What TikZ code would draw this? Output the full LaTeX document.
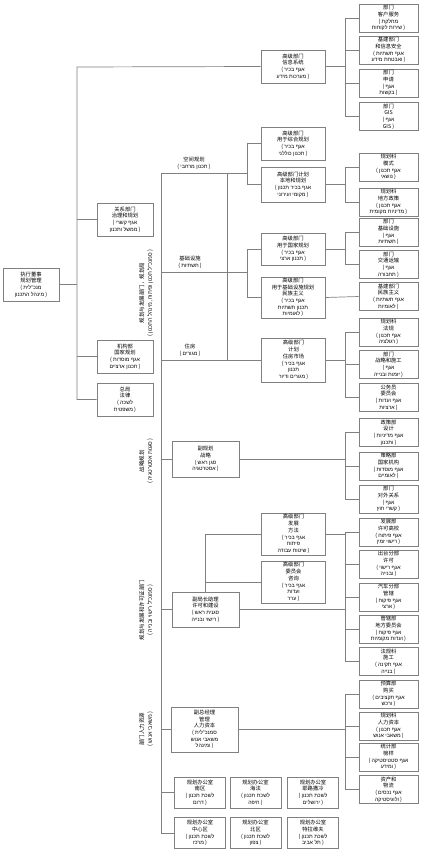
\documentclass[tikz,border=0pt]{standalone}
\usepackage{fontspec}
\setmainfont{Noto Sans CJK SC}
\newfontfamily\hebfont[Script=Hebrew]{Liberation Sans}
\TeXXeTstate=1
\newcommand\hb[1]{{\hebfont\beginR #1\endR}}
\tikzset{
  box/.style={draw=black!50, fill=white, line width=0.6pt, align=center, inner sep=0.4pt,
    font=\fontsize{5.3}{6.7}\selectfont},
  conn/.style={draw=black!50, line width=0.7pt},
  lbl/.style={align=center, inner sep=0pt, font=\fontsize{5.3}{6.7}\selectfont},
  vlbl/.style={align=center, inner sep=0pt, rotate=90, font=\fontsize{5.5}{8}\selectfont},
  leaf/.style={box, minimum width=59pt, minimum height=28pt},
  mid/.style={box, minimum width=64pt},
  lft/.style={box, minimum width=56pt, minimum height=33pt},
  dep/.style={box, minimum width=67pt},
  off/.style={box, minimum width=51pt, minimum height=31pt},
}
\begin{document}
\begin{tikzpicture}[x=1pt,y=-1pt]
\useasboundingbox (0,0) rectangle (426,851);
% ---------- left column ----------
\node[lft] (root) at (31,284.5) {执行董事\\规划管理\\( \hb{מנכ"לית}\\\hb{מינהל התכנון} )};
\node[lft] (rel) at (125,219.5) {关系部门\\治理和规划\\( \hb{אגף קשרי}\\\hb{ממשל ותכנון} )};
\node[lft] (inst) at (125,356.5) {机构部\\国家规划\\( \hb{אגף מוסדות}\\\hb{תכנון ארציים} )};
\node[lft] (legal) at (125,399.5) {总局\\法律\\( \hb{לשכה}\\\hb{משפטית} )};
% ---------- middle column ----------
\node[mid, minimum height=33pt] (info) at (293,66.5) {高级部门\\信息系统\\( \hb{אגף בכיר}\\\hb{מערכות מידע} )};
\node[mid, minimum height=33pt] (comp) at (293,143.5) {高级部门\\用于综合规划\\( \hb{אגף בכיר}\\\hb{תכנון כוללני} )};
\node[mid, minimum height=35pt] (local) at (293,184.5) {高级部门计划\\本地和规划\\( \hb{אגף בכיר תכנון}\\\hb{מקומי ועירוני} )};
\node[mid, minimum height=32pt] (nat) at (293,249) {高级部门\\用于国家规划\\( \hb{אגף בכיר}\\\hb{תכנון ארצי} )};
\node[mid, minimum height=41pt] (natinf) at (293,297.5) {高级部门\\用于基础设施规划\\民族主义\\( \hb{אגף בכיר}\\\hb{תכנון תשתיות}\\\hb{לאומיות} )};
\node[mid, minimum height=44pt] (housing) at (293.5,360) {高级部门\\计划\\住房市场\\( \hb{אגף בכיר}\\\hb{תכנון}\\\hb{מגורים ודיור} )};
\node[mid, minimum height=42pt] (devm) at (293.5,534) {高级部门\\发展\\方法\\( \hb{אגף בכיר}\\\hb{פיתוח}\\\hb{שיטות עבודה} )};
\node[mid, minimum height=42pt] (comm) at (293.5,582) {高级部门\\委员会\\咨询\\( \hb{אגף בכיר}\\\hb{ועדות}\\\hb{ערר} )};
\node[dep, minimum height=36pt] (strat) at (205.5,459) {副规划\\战略\\( \hb{סגן ראש}\\\hb{אסטרטגיה} )};
\node[dep, minimum height=35pt] (lic) at (205.5,609.5) {副局长助理\\许可和建设\\( \hb{סגנית ראש}\\\hb{רישוי ובנייה} )};
\node[dep, minimum height=45pt] (hr) at (204.5,729.5) {副总经理\\管理\\人力资本\\( \hb{סמנכ"לית}\\\hb{משאבי אנוש}\\\hb{ומינהל} )};
% ---------- right column ----------
\node[leaf] (ic1) at (388.5,18) {部门\\客户服务\\( \hb{מחלקת}\\\hb{שירות לקוחות} )};
\node[leaf] (ic2) at (388.5,50) {基建部门\\和信息安全\\( \hb{אגף תשתיות}\\\hb{ואבטחת מידע} )};
\node[leaf] (ic3) at (388.5,83) {部门\\申请\\( \hb{אגף}\\\hb{בקשות} )};
\node[leaf] (ic4) at (388.5,116.5) {部门\\GIS\\( \hb{אגף}\\GIS )};
\node[leaf] (lc1) at (388.5,167) {规划科\\模式\\( \hb{אגף תכנון}\\\hb{נושאי} )};
\node[leaf] (lc2) at (388.5,202) {规划科\\地方政策\\( \hb{אגף תכנון}\\\hb{מדיניות מקומית} )};
\node[leaf] (nc1) at (388.5,232) {部门\\基础设施\\( \hb{אגף}\\\hb{תשתיות} )};
\node[leaf] (nc2) at (388.5,264.5) {部门\\交通运输\\( \hb{אגף}\\\hb{תחבורה} )};
\node[leaf] (ni) at (388.5,296.5) {基建部门\\民族主义\\( \hb{אגף תשתיות}\\\hb{לאומיות} )};
\node[leaf] (hc1) at (388.5,332) {规划科\\法规\\( \hb{אגף תכנון}\\\hb{רגולציה} )};
\node[leaf] (hc2) at (388.5,364.5) {部门\\战略和施工\\( \hb{אגף}\\\hb{יזמות ובנייה} )};
\node[leaf] (hc3) at (388.5,397.5) {公务员\\委员会\\( \hb{אגף ועדות}\\\hb{ארציות} )};
\node[leaf] (sc1) at (388.5,432.5) {政策部\\设计\\( \hb{אגף מדיניות}\\\hb{ותכנון} )};
\node[leaf] (sc2) at (388.5,466) {策略部\\国家机构\\( \hb{אגף מוסדות}\\\hb{לאומיים} )};
\node[leaf] (sc3) at (388.5,499) {部门\\对外关系\\( \hb{אגף}\\\hb{קשרי חוץ} )};
\node[leaf] (pc1) at (388.5,532) {发展部\\许可高校\\( \hb{אגף פיתוח}\\\hb{רישוי זמין} )};
\node[leaf] (pc2) at (388.5,564) {出台分部\\许可\\( \hb{אגף רישוי}\\\hb{ובנייה} )};
\node[leaf] (pc3) at (388.5,597) {汽车分部\\管辖\\( \hb{אגף פיקוח}\\\hb{ארצי} )};
\node[leaf] (pc4) at (388.5,629) {管辖部\\地方委员会\\( \hb{אגף פיקוח}\\\hb{ועדות מקומיות} )};
\node[leaf] (pc5) at (388.5,661.5) {法规科\\施工\\( \hb{אגף תקינה}\\\hb{בנייה} )};
\node[leaf] (rc1) at (388.5,694) {预算部\\购买\\( \hb{אגף תקציבים}\\\hb{ורכש} )};
\node[leaf] (rc2) at (388.5,726) {规划科\\人力资本\\( \hb{אגף תכנון}\\\hb{משאבי אנוש} )};
\node[leaf] (rc3) at (388.5,757) {统计部\\榜样\\( \hb{אגף סטטיסטיקה}\\\hb{ומידע} )};
\node[leaf] (rc4) at (388.5,789.5) {资产和\\物流\\( \hb{אגף נכסים}\\\hb{ולוגיסטיקה} )};
% ---------- district offices ----------
\node[off] (o1) at (200,792.5) {规划办公室\\南区\\( \hb{לשכת תכנון}\\\hb{דרום} )};
\node[off] (o2) at (255.5,792.5) {规划办公室\\海法\\( \hb{לשכת תכנון}\\\hb{חיפה} )};
\node[off] (o3) at (313,792.5) {规划办公室\\耶路撒冷\\( \hb{לשכת תכנון}\\\hb{ירושלים} )};
\node[off] (o4) at (200,833) {规划办公室\\中心区\\( \hb{לשכת תכנון}\\\hb{מרכז} )};
\node[off] (o5) at (255.5,833) {规划办公室\\北区\\( \hb{לשכת תכנון}\\\hb{צפון} )};
\node[off] (o6) at (313,833) {规划办公室\\特拉维夫\\( \hb{לשכת תכנון}\\\hb{תל אביב} )};
% ---------- labels ----------
\node[lbl] (lsp) at (194,163) {空间规划\\( \hb{תכנון מרחבי} )};
\node[lbl] (lin) at (190,262) {基础设施\\( \hb{תשתיות} )};
\node[lbl] (lho) at (190,350) {住房\\( \hb{מגורים} )};
\node[vlbl] (v1) at (146,293) {规划与发展部门，规划局\\( \hb{סמנכ"ל תכנון ופיתוח, מינהל התכנון} )};
\node[vlbl] (v2) at (146,461) {战略规划\\( \hb{סגנות אסטרטגיה} )};
\node[vlbl] (v3) at (146,610) {规划与发展和许可证部门\\( \hb{סמנכ"ל רישוי ובנייה} )};
\node[vlbl] (v4) at (146,729) {部门人力资源\\( \hb{משאבי אנוש} )};
% ---------- coordinates ----------
\coordinate (T1) at (77,67);
\coordinate (T2) at (161,173);
\coordinate (Bsp) at (247,173);
\coordinate (Bin) at (247,272);
\coordinate (S1) at (227,173);
\coordinate (S2) at (227,360);
\coordinate (RB) at (345,0);
% ---------- trunk 1 ----------
\draw[conn] (info.west) -- (T1) -- (T1 |- legal.west) -- (legal.west);
\draw[conn] (root.east) -- (root.east -| T1);
\draw[conn] (rel.west) -- (rel.west -| T1);
\draw[conn] (inst.west) -- (inst.west -| T1);
% ---------- trunk 2 ----------
\draw[conn] (T2) -- (T2 |- o4.west) -- (o4.west);
\draw[conn] (T2 |- o1.west) -- (o1.west);
\draw[conn] (T2) -- (Bsp);
\draw[conn] (Bsp) |- (comp.west);
\draw[conn] (Bsp) |- (local.west);
\draw[conn] (T2 |- Bin) -- (Bin);
\draw[conn] (Bin) |- (nat.west);
\draw[conn] (Bin) |- (natinf.west);
\draw[conn] (T2 |- housing.west) -- (housing.west);
\draw[conn] (S1) -- (S2);
\draw[conn] (T2 |- strat.west) -- (strat.west);
\draw[conn] (T2 |- lic.west) -- (lic.west);
\draw[conn] (T2 |- hr.west) -- (hr.west);
% ---------- brackets to right column ----------
\draw[conn] (info.east) -- (info.east -| RB);
\foreach \c in {ic1,ic2,ic3,ic4} \draw[conn] (info.east -| RB) |- (\c.west);
\draw[conn] (local.east) -- (local.east -| RB);
\foreach \c in {lc1,lc2} \draw[conn] (local.east -| RB) |- (\c.west);
\draw[conn] (nat.east) -- (nat.east -| RB);
\foreach \c in {nc1,nc2} \draw[conn] (nat.east -| RB) |- (\c.west);
\draw[conn] (natinf.east) -- (ni.west);
\draw[conn] (housing.east) -- (housing.east -| RB);
\foreach \c in {hc1,hc2,hc3} \draw[conn] (housing.east -| RB) |- (\c.west);
\draw[conn] (strat.east) -- (strat.east -| RB);
\foreach \c in {sc1,sc2,sc3} \draw[conn] (strat.east -| RB) |- (\c.west);
\draw[conn] (lic.east) -- (lic.east -| RB);
\foreach \c in {pc1,pc2,pc3,pc4,pc5} \draw[conn] (lic.east -| RB) |- (\c.west);
\draw[conn] (devm.east) -- (devm.east -| RB);
\draw[conn] (lic.north) |- (devm.west);
\draw[conn] (lic.north) |- (comm.west);
\draw[conn] (hr.east) -- (hr.east -| RB);
\foreach \c in {rc1,rc2,rc3,rc4} \draw[conn] (hr.east -| RB) |- (\c.west);
\end{tikzpicture}
\end{document}
